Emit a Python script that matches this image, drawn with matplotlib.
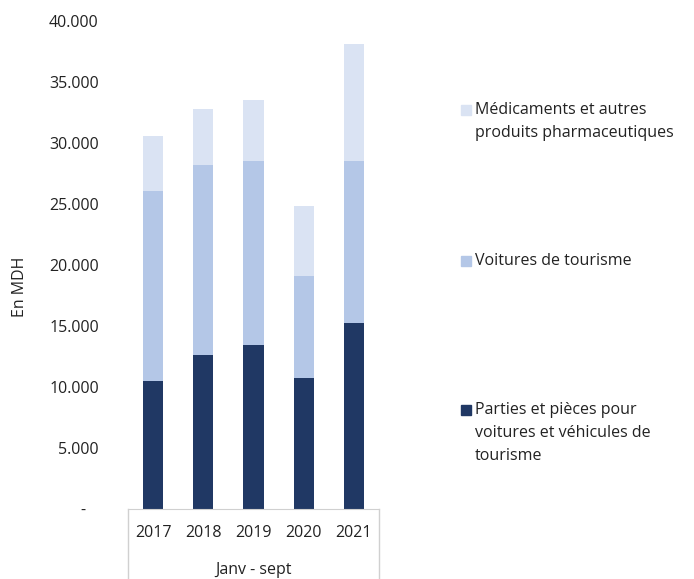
import matplotlib
matplotlib.use("Agg")
import matplotlib.pyplot as plt
from matplotlib.lines import Line2D
from matplotlib.patches import Rectangle

plt.rcParams['font.family'] = ['Open Sans', 'DejaVu Sans']

# data (MDH), Janv - sept
years = ["2017", "2018", "2019", "2020", "2021"]
parties = [10500, 12600, 13400, 10700, 15250]
voitures = [15550, 15600, 15150, 8350, 13300]
medicaments = [4550, 4600, 5000, 5800, 9600]
labels = ["Parties et pièces pour\nvoitures et véhicules de\ntourisme",
          "Voitures de tourisme",
          "Médicaments et autres\nproduits pharmaceutiques"]
colors = ["#203864", "#b4c7e7", "#dae3f3"]
yticks = [0, 5000, 10000, 15000, 20000, 25000, 30000, 35000, 40000]

W, H = 694, 579
fs = 11.5
fig = plt.figure(figsize=(W / 100, H / 100), dpi=100)
ax = fig.add_axes([128 / W, (H - 508.5) / H, 251 / W, 487.5 / H])

x = range(len(years))
bottom2 = [a + b for a, b in zip(parties, voitures)]
ax.bar(x, parties, width=0.4, color=colors[0])
ax.bar(x, voitures, width=0.4, bottom=parties, color=colors[1])
ax.bar(x, medicaments, width=0.4, bottom=bottom2, color=colors[2])

ax.set_xlim(-0.5, 4.5)
ax.set_ylim(0, 40000)
ax.set_yticks(yticks)
ax.set_yticklabels(["-   "] + [f"{v:,}".replace(",", ".") for v in yticks[1:]])
ax.tick_params(axis="y", length=0, pad=21, labelsize=fs, colors="#222222")
ax.set_xticks([])
for s in ["top", "right", "left"]:
    ax.spines[s].set_visible(False)
ax.spines["bottom"].set_color("#d0d0d0")
ax.set_ylabel("En MDH", fontsize=fs, color="#222222")
ax.yaxis.set_label_coords(-100 / 251, 0.455)

# category box below the axis
for px in [128, 378.5]:
    fig.add_artist(Line2D([px / W, px / W], [0, (H - 508.5) / H],
                          color="#d0d0d0", lw=1))
for i, yr in enumerate(years):
    ax.text(i, -2000, yr, ha="center", va="center", fontsize=fs,
            color="#222222")
ax.text(2, -5050, "Janv - sept", ha="center", va="center", fontsize=fs,
        color="#222222")

# legend on the right
leg_y = [[110, 133], [261], [410, 433, 456]]
order = [2, 1, 0]
for k, idx in enumerate(order):
    y0 = leg_y[k][0]
    fig.add_artist(Rectangle((461 / W, (H - y0 - 5) / H), 10 / W, 10 / H,
                             color=colors[idx], transform=fig.transFigure))
    for j, line in enumerate(labels[idx].split("\n")):
        fig.text(475 / W, (H - leg_y[k][j]) / H, line, ha="left", va="center",
                 fontsize=fs, color="#222222")

fig.savefig("out.png", dpi=100)
